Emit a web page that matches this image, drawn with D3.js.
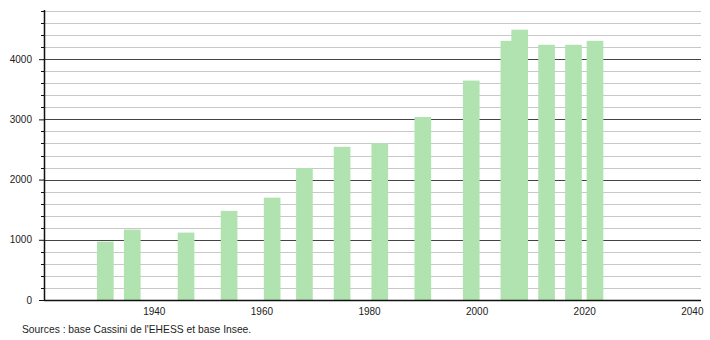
<!DOCTYPE html>
<html>
<head>
<meta charset="utf-8">
<style>
  body { margin: 0; background: #fff; }
  text { font-family: "Liberation Sans", Arial, sans-serif; fill: #222; }
</style>
</head>
<body>
<div id="chart"></div>
<script src="https://d3js.org/d3.v7.min.js"></script>
<script>
  // census years and population
  var years = [1931, 1936, 1946, 1954, 1962, 1968, 1975, 1982, 1990, 1999, 2006, 2008, 2013, 2018, 2022];
  var population = [970, 1170, 1120, 1480, 1700, 2190, 2545, 2605, 3040, 3645, 4305, 4490, 4240, 4240, 4305];
  var xTicks = [1940, 1960, 1980, 2000, 2020, 2040];
  var yTicks = [0, 1000, 2000, 3000, 4000];
  var source = "Sources : base Cassini de l'EHESS et base Insee.";

  var data = years.map(function(y, i) {
    return { year: y, value: population[i] };
  });

  var width = 710, height = 340;
  var plotLeft = 44, plotRight = 701, plotTop = 10, plotBottom = 300;

  var svg = d3.select("#chart")
    .append("svg")
    .attr("width", width)
    .attr("height", height);

  var x = d3.scaleLinear()
    .domain([1919.6, 2041.7])
    .range([plotLeft, plotRight]);

  var y = d3.scaleLinear()
    .domain([0, 4817])
    .range([plotBottom, plotTop]);

  // gridlines every 200, darker every 1000
  var grid = d3.range(200, 4801, 200);
  svg.append("g")
    .selectAll("line")
    .data(grid)
    .enter()
    .append("line")
    .attr("x1", plotLeft)
    .attr("x2", plotRight)
    .attr("y1", function(d) { return Math.round(y(d)) + 0.5; })
    .attr("y2", function(d) { return Math.round(y(d)) + 0.5; })
    .style("stroke", function(d) { return d % 1000 == 0 ? "#444" : "#c8c8c8"; })
    .style("stroke-width", 1);

  // bars
  var barW = 3.1;
  svg.append("g")
    .selectAll("rect")
    .data(data)
    .enter()
    .append("rect")
    .attr("x", function(d) { return x(d.year - barW / 2); })
    .attr("width", function(d) { return x(d.year + barW / 2) - x(d.year - barW / 2); })
    .attr("y", function(d) { return y(d.value); })
    .attr("height", function(d) { return plotBottom - y(d.value); })
    .style("fill", "#b1e3b1");

  // y axis: major ticks with labels, minor ticks every 200
  var yAxis = d3.axisLeft(y)
    .tickValues(yTicks)
    .tickSize(5)
    .tickPadding(7)
    .tickFormat(d3.format("d"));
  var gy = svg.append("g")
    .attr("transform", "translate(" + plotLeft + ",0)")
    .call(yAxis);
  gy.select(".domain").remove();
  gy.selectAll("line").style("stroke", "#111");
  gy.selectAll("text").style("font-size", "10px").style("fill", "#222");

  svg.append("g")
    .selectAll("line")
    .data(grid.filter(function(d) { return d % 1000 != 0; }))
    .enter()
    .append("line")
    .attr("x1", plotLeft - 3)
    .attr("x2", plotLeft)
    .attr("y1", function(d) { return Math.round(y(d)) + 0.5; })
    .attr("y2", function(d) { return Math.round(y(d)) + 0.5; })
    .style("stroke", "#111");

  svg.append("line")
    .attr("x1", plotLeft + 0.5)
    .attr("x2", plotLeft + 0.5)
    .attr("y1", plotTop)
    .attr("y2", plotBottom)
    .style("stroke", "#111")
    .style("stroke-width", 1.5);

  // x axis: no tick marks, only labels
  var xAxis = d3.axisBottom(x)
    .tickValues(xTicks)
    .tickSize(0)
    .tickPadding(8)
    .tickFormat(d3.format("d"));
  var gx = svg.append("g")
    .attr("transform", "translate(0," + plotBottom + ")")
    .call(xAxis);
  gx.select(".domain").remove();
  gx.selectAll("text").style("font-size", "10px").style("fill", "#222");

  svg.append("line")
    .attr("x1", plotLeft)
    .attr("x2", plotRight)
    .attr("y1", plotBottom + 0.5)
    .attr("y2", plotBottom + 0.5)
    .style("stroke", "#111")
    .style("stroke-width", 1.5);

  svg.append("text")
    .attr("x", 22)
    .attr("y", 333)
    .style("font-size", "10.3px")
    .text(source);
</script>
</body>
</html>
